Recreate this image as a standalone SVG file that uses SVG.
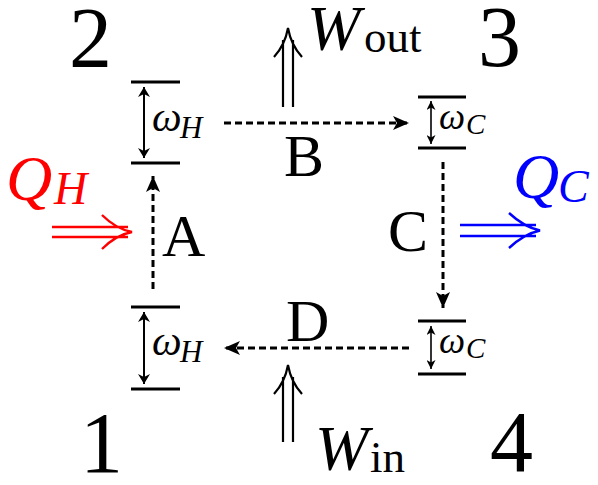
<svg xmlns="http://www.w3.org/2000/svg" width="598" height="485" viewBox="0 0 598 485">
<style>
.lvl{stroke:#000;stroke-width:3;fill:none}
.dash{stroke:#000;stroke-width:3;stroke-dasharray:7,4;fill:none}
.t{fill:#000}
.i{font-style:italic}
.n{font-style:normal}
.big{font-size:86px}
.lab{font-size:60px}
</style>
<defs>
<marker id="ah" viewBox="0 0 16 14" refX="16" refY="7" markerWidth="16" markerHeight="14" markerUnits="userSpaceOnUse" orient="auto-start-reverse"><path d="M0,0 L16,7 L0,14 L4,7 Z" fill="#000"/></marker>
<marker id="sh" viewBox="0 0 10 12" refX="10" refY="6" markerWidth="10" markerHeight="12" markerUnits="userSpaceOnUse" orient="auto-start-reverse"><path d="M0,0 L10,6 L0,12 L3,6 Z" fill="#000"/></marker>
<marker id="ss" viewBox="0 0 9 9" refX="9" refY="4.5" markerWidth="9" markerHeight="9" markerUnits="userSpaceOnUse" orient="auto-start-reverse"><path d="M0,0 L9,4.5 L0,9 L2.5,4.5 Z" fill="#000"/></marker>
</defs>
<g font-family="Liberation Serif, Times New Roman, DejaVu Serif, serif">
<g id="state1">
<line class="lvl" x1="131" y1="307" x2="180" y2="307"/>
<line class="lvl" x1="131" y1="389" x2="180" y2="389"/>
<line stroke="#000" stroke-width="2" x1="144" y1="312" x2="144" y2="384" marker-start="url(#sh)" marker-end="url(#sh)"/>
<text class="t i" x="152" y="355" font-size="42">ω<tspan x="180" font-size="31" dy="7">H</tspan></text>
<text class="t big" x="80" y="472">1</text>
</g>

<g id="state2">
<line class="lvl" x1="131" y1="82" x2="180" y2="82"/>
<line class="lvl" x1="131" y1="163" x2="180" y2="163"/>
<line stroke="#000" stroke-width="2" x1="144" y1="87" x2="144" y2="158" marker-start="url(#sh)" marker-end="url(#sh)"/>
<text class="t i" x="152" y="131" font-size="42">ω<tspan x="180" font-size="31" dy="7">H</tspan></text>
<text class="t big" x="69" y="67">2</text>
</g>

<g id="state3">
<line class="lvl" x1="418" y1="97" x2="466" y2="97"/>
<line class="lvl" x1="418" y1="148" x2="466" y2="148"/>
<line stroke="#000" stroke-width="1.6" x1="431" y1="101" x2="431" y2="144" marker-start="url(#ss)" marker-end="url(#ss)"/>
<text class="t i" x="439" y="129" font-size="37">ω<tspan x="466" font-size="29" dy="5">C</tspan></text>
<text class="t big" x="478" y="66">3</text>
</g>

<g id="state4">
<line class="lvl" x1="418" y1="321" x2="466" y2="321"/>
<line class="lvl" x1="418" y1="374" x2="466" y2="374"/>
<line stroke="#000" stroke-width="1.6" x1="431" y1="326" x2="431" y2="369" marker-start="url(#ss)" marker-end="url(#ss)"/>
<text class="t i" x="439" y="353" font-size="37">ω<tspan x="466" font-size="29" dy="5">C</tspan></text>
<text class="t big" x="490" y="471">4</text>
</g>

<g id="connectors">
<line class="dash" x1="224" y1="123" x2="409" y2="123" marker-end="url(#ah)"/>
<line class="dash" x1="153" y1="289" x2="153" y2="176" marker-end="url(#ah)"/>
<line class="dash" x1="443" y1="162" x2="443" y2="308" marker-end="url(#ah)"/>
<line class="dash" x1="409" y1="348" x2="224" y2="348" marker-end="url(#ah)"/>
</g>

<g id="labels">
<text class="t lab" x="162" y="256">A</text>
<text class="t lab" x="284" y="176">B</text>
<text class="t lab" x="388" y="251">C</text>
<text class="t lab" x="286" y="341">D</text>
</g>

<g id="heatH">
<path stroke="#f00" stroke-width="2.4" fill="none" d="M52,227 H128 M52,237 H128 M102,215 Q116,229 132,232 Q116,235 102,249"/>
<text class="i" x="6" y="200" font-size="64" fill="#f00">Q<tspan x="54" font-size="46" dy="4">H</tspan></text>
</g>

<g id="heatC">
<path stroke="#00f" stroke-width="2.4" fill="none" d="M460,225 H536 M460,236 H536 M509,213 Q524,227 540,230.5 Q524,234 509,248"/>
<text class="i" x="513" y="198" font-size="64" fill="#00f">Q<tspan x="558" font-size="46" dy="4">C</tspan></text>
</g>

<g id="workOut">
<path stroke="#000" stroke-width="2.2" fill="none" d="M283,107 V40 M293,107 V40 M274,57 Q285,45 288,28 Q291,45 302,57"/>
<text class="t i" x="307" y="50" font-size="64">W<tspan class="n" x="364" font-size="45" dy="2">out</tspan></text>
</g>

<g id="workIn">
<path stroke="#000" stroke-width="2.2" fill="none" d="M283,442 V377 M293,442 V377 M274,394 Q285,382 288,365 Q291,382 302,394"/>
<text class="t i" x="315" y="470" font-size="64">W<tspan class="n" x="370" font-size="45" dy="2">in</tspan></text>
</g>
</g>
</svg>
